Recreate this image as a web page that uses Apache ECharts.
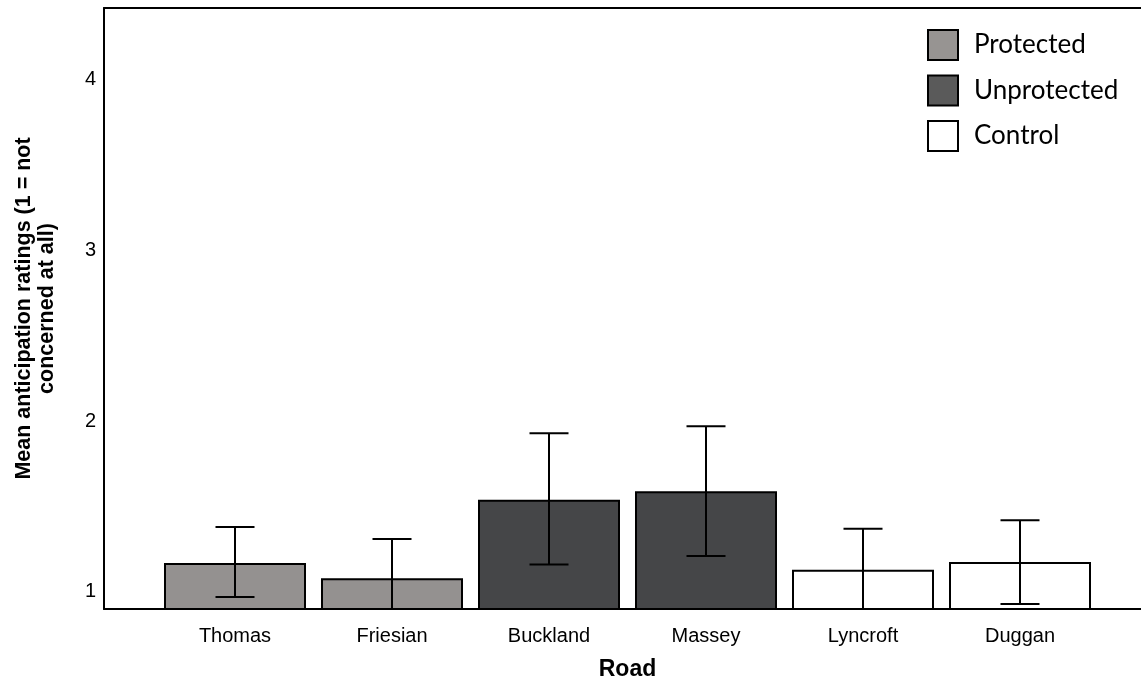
<!DOCTYPE html>
<html>
<head>
<meta charset="utf-8">
<script src="https://cdn.jsdelivr.net/npm/echarts@6/dist/echarts.min.js"></script>
<style>
html,body{margin:0;padding:0;background:#fff;}
#chart{width:1141px;height:686px;}
</style>
</head>
<body>
<div id="chart"></div>
<script>
// ---- data ----
const roads = ['Thomas', 'Friesian', 'Buckland', 'Massey', 'Lyncroft', 'Duggan'];
const groups = ['Protected', 'Protected', 'Unprotected', 'Unprotected', 'Control', 'Control'];
const means = [1.17, 1.08, 1.54, 1.59, 1.13, 1.175];
const ciLow = [0.97, 0.86, 1.16, 1.21, 0.89, 0.93];
const ciHigh = [1.38, 1.31, 1.93, 1.97, 1.37, 1.42];
const groupNames = ['Protected', 'Unprotected', 'Control'];
const yTicks = [1, 2, 3, 4];
const yMin = 0.9, yMax = 4.42;

const fills = { Protected: '#949190', Unprotected: '#454648', Control: '#ffffff' };
const legendFills = { Protected: '#979492', Unprotected: '#5a5a5a', Control: '#ffffff' };
const FONT = 'Liberation Sans, Arial, sans-serif';

const barSeries = groupNames.map(g => ({
  name: g,
  type: 'bar',
  xAxisIndex: 0, yAxisIndex: 0,
  barWidth: 142,
  barGap: '-100%',
  data: means.map((m, i) => groups[i] === g ? m : '-'),
  itemStyle: { color: fills[g], borderColor: '#000', borderWidth: 2 },
  emphasis: { disabled: true },
  z: 2
}));

const errSeries = {
  type: 'custom',
  xAxisIndex: 0, yAxisIndex: 0,
  data: roads.map((r, i) => [i, ciLow[i], ciHigh[i]]),
  renderItem: function (params, api) {
    const x = api.coord([api.value(0), 0])[0];
    const lo = Math.max(api.value(1), yMin);
    const hi = Math.min(api.value(2), yMax);
    const yLo = api.coord([api.value(0), lo])[1];
    const yHi = api.coord([api.value(0), hi])[1];
    const hw = 19.5;
    const st = { stroke: '#000', lineWidth: 2 };
    return {
      type: 'group',
      children: [
        { type: 'line', shape: { x1: x, y1: yLo, x2: x, y2: yHi }, style: st },
        { type: 'line', shape: { x1: x - hw, y1: yHi, x2: x + hw, y2: yHi }, style: st },
        { type: 'line', shape: { x1: x - hw, y1: yLo, x2: x + hw, y2: yLo }, style: st }
      ]
    };
  },
  z: 5
};

const chart = echarts.init(document.getElementById('chart'), null, { renderer: 'canvas' });
chart.setOption({
  backgroundColor: '#fff',
  animation: false,
  legend: {
    orient: 'vertical',
    left: 922, top: 24,
    itemWidth: 30, itemHeight: 30, itemGap: 13.5,
    icon: 'rect',
    selectedMode: false,
    data: groupNames.map(g => ({
      name: g,
      itemStyle: { color: legendFills[g], borderColor: '#000', borderWidth: 2 }
    })),
    textStyle: { fontFamily: 'Lato, Open Sans, sans-serif', fontSize: 26, color: '#000', padding: [0, 0, 0, 11] }
  },
  grid: [
    { left: 156.5, right: 42.5, top: 8, bottom: 77, containLabel: false, outerBoundsMode: 'none' },
    { left: 104, right: 0, top: 8, bottom: 77, containLabel: false, outerBoundsMode: 'none' }
  ],
  xAxis: [
    {
      type: 'category', gridIndex: 0, data: roads,
      axisLine: { show: false }, axisTick: { show: false },
      axisLabel: { fontFamily: FONT, fontSize: 20, color: '#000', margin: 17 },
      name: 'Road', nameLocation: 'middle', nameGap: 49,
      nameTextStyle: { fontFamily: FONT, fontSize: 23, fontWeight: 'bold', color: '#000' },
      splitLine: { show: false }
    },
    {
      type: 'value', gridIndex: 1, position: 'bottom', min: 0, max: 1,
      axisLine: { show: true, onZero: false, lineStyle: { color: '#000', width: 2 } },
      axisTick: { show: false }, axisLabel: { show: false }, splitLine: { show: false }
    },
    {
      type: 'value', gridIndex: 1, position: 'top', min: 0, max: 1,
      axisLine: { show: true, onZero: false, lineStyle: { color: '#000', width: 2 } },
      axisTick: { show: false }, axisLabel: { show: false }, splitLine: { show: false }
    }
  ],
  yAxis: [
    {
      type: 'value', gridIndex: 0, min: yMin, max: yMax, offset: 52.5,
      axisLine: { show: true, onZero: false, lineStyle: { color: '#000', width: 2 } },
      axisTick: { show: false },
      axisLabel: { fontFamily: FONT, fontSize: 20, color: '#000', margin: 8, customValues: yTicks },
      splitLine: { show: false },
      name: 'Mean anticipation ratings (1 = not\nconcerned at all)',
      nameLocation: 'middle', nameGap: 45,
      nameTextStyle: { fontFamily: FONT, fontSize: 21.5, fontWeight: 'bold', color: '#000', lineHeight: 23 }
    },
    {
      type: 'value', gridIndex: 1, min: 0, max: 1, show: false
    }
  ],
  series: [...barSeries, errSeries]
});
</script>
</body>
</html>
